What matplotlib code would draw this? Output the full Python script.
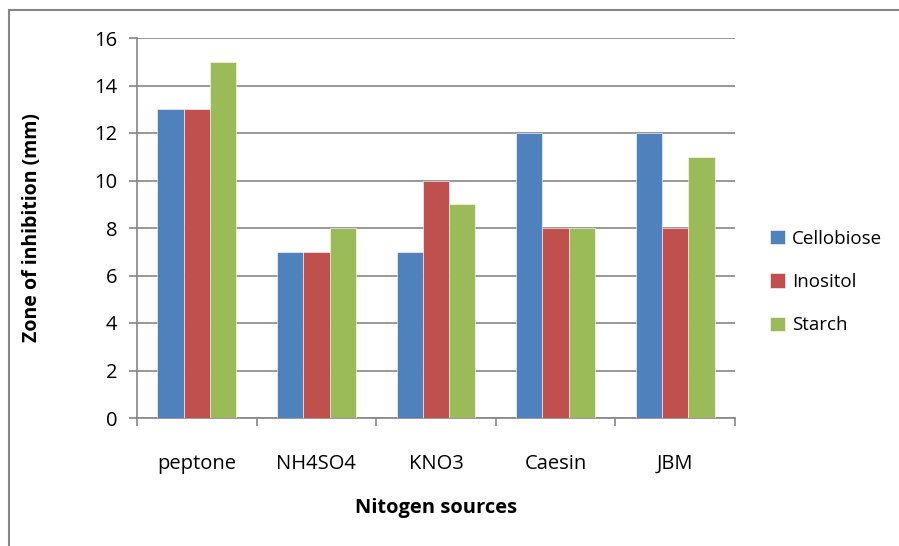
import matplotlib.pyplot as plt
import numpy as np
from matplotlib.patches import Rectangle

plt.rcParams['font.family'] = ['Open Sans', 'DejaVu Sans']

categories = ['peptone', 'NH4SO4', 'KNO3', 'Caesin', 'JBM']
cellobiose = [13, 7, 7, 12, 12]
inositol = [13, 7, 10, 8, 8]
starch = [15, 8, 9, 8, 11]
series = [('Cellobiose', cellobiose, '#4f81bd'),
          ('Inositol', inositol, '#c0504d'),
          ('Starch', starch, '#9bbb59')]

fig = plt.figure(figsize=(8.99, 5.46), dpi=100)
W, H = 899, 546
ax = fig.add_axes([137 / W, 1 - 418 / H, (735 - 137) / W, (418 - 38) / H])

grey = '#868686'
x = np.arange(len(categories))
bw = 0.22
for i, (name, vals, col) in enumerate(series):
    ax.bar(x + (i - 1) * bw, vals, bw, color=col, label=name, zorder=3,
           edgecolor='white', linewidth=0.4)

ax.set_xlim(-0.5, len(categories) - 0.5)
ax.set_ylim(0, 16)
ax.set_yticks(range(0, 17, 2))
ax.yaxis.grid(True, color=grey, linewidth=1.2, zorder=0)
ax.set_axisbelow(True)

ax.set_xticks(x)
ax.set_xticklabels(categories)
ax.set_xticks(np.arange(-0.5, len(categories)), minor=True)
ax.tick_params(axis='x', which='major', length=0, pad=26, labelsize=14.5)
ax.tick_params(axis='x', which='minor', length=6, width=1.2, color=grey)
ax.tick_params(axis='y', length=6, width=1.2, color=grey, pad=8, labelsize=14.5)

for s in ['top', 'right']:
    ax.spines[s].set_visible(False)
for s in ['left', 'bottom']:
    ax.spines[s].set_color(grey)
    ax.spines[s].set_linewidth(1.2)

ax.set_xlabel('Nitogen sources', fontsize=14.5, fontweight='bold', labelpad=17)
ax.set_ylabel('Zone of inhibition (mm)', fontsize=14, fontweight='bold', labelpad=38)

ax.legend(loc='center left', bbox_to_anchor=(1.03, 0.358), frameon=False,
          fontsize=13.5, handlelength=0.8, handleheight=0.8, handletextpad=0.4,
          labelspacing=1.35)

fig.patches.append(Rectangle((9 / W, -0.1), 1.2, 1.1 - 10 / H, transform=fig.transFigure,
                             fill=False, edgecolor=grey, linewidth=1.5))

fig.savefig('out.png', dpi=100)
